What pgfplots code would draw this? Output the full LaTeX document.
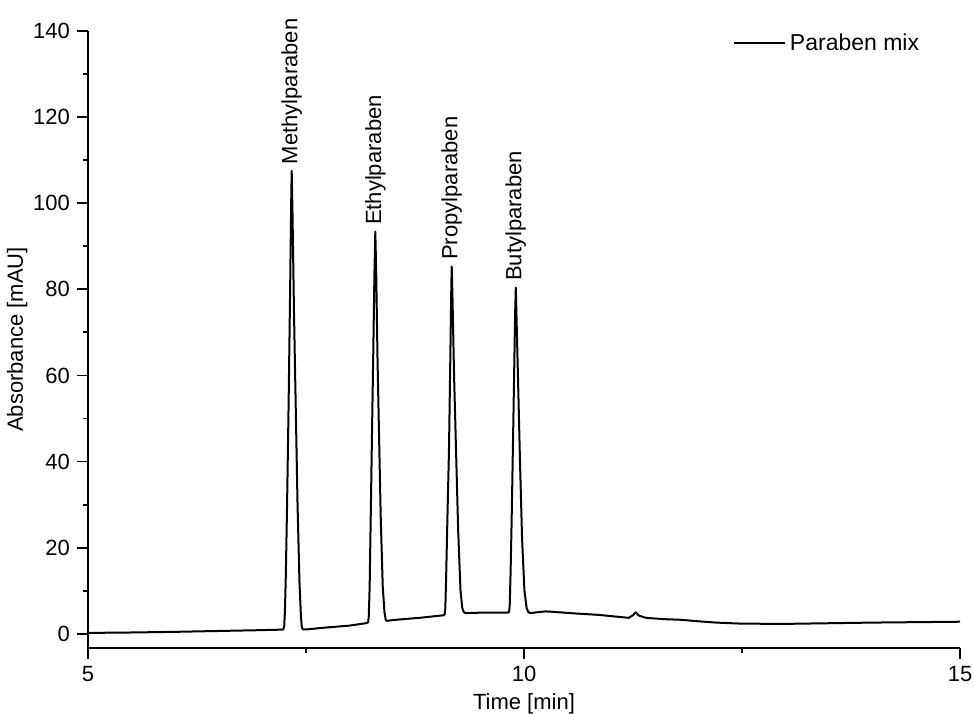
\documentclass[border=0pt]{standalone}
\usepackage{fontspec}
\setmainfont{Liberation Sans}
\usepackage{pgfplots}
\pgfplotsset{compat=1.18}
\begin{document}
\begin{tikzpicture}
\begin{axis}[
  name=ax,
  scale only axis,
  width=436pt, height=308.5pt,
  xmin=5, xmax=15, ymin=-3.3, ymax=140,
  axis x line=bottom, axis y line=left,
  axis line style={-, line width=0.9pt},
  xtick={5,10,15}, minor xtick={7.5,12.5},
  ytick={0,20,...,140}, minor ytick={10,30,...,130},
  tick align=outside,
  major tick length=5.5pt, minor tick length=2.5pt,
  tick style={line width=0.9pt, black},
  font=\fontsize{11}{13}\selectfont,
  ticklabel style={font=\fontsize{11}{13}\selectfont},
  /pgf/number format/assume math mode=true,
  xlabel={Time [min]}, ylabel={Absorbance [mAU]},
  xlabel style={yshift=1pt},
  ylabel style={yshift=-4pt},
  legend style={draw=none, fill=none, at={(0.965,1.0)}, anchor=north east, yshift=3pt, font=\fontsize{11.5}{13}\selectfont},
  legend image code/.code={\draw[line width=1pt] (0cm,0cm) -- (0.9cm,0cm);},
  clip=false,
]
\addplot[black, line width=1pt, line join=round] coordinates {
(5.0,0.2) (5.5,0.3) (6.0,0.45) (6.5,0.65) (7.0,0.85) (7.2,0.95)
(7.240,1.0) (7.250,1.8) (7.258,5) (7.268,13) (7.283,30) (7.301,54) (7.318,80) (7.330,100) (7.336,107.5)
(7.345,98) (7.362,75) (7.381,54) (7.403,30) (7.425,12) (7.442,4) (7.452,1.5) (7.465,1.0) (7.50,1.0)
(7.7,1.4) (8.0,1.9) (8.20,2.5)
(8.212,2.7) (8.220,4) (8.230,11) (8.243,28) (8.257,46.7) (8.272,66) (8.285,84) (8.295,93.4)
(8.305,84) (8.320,64) (8.337,46.7) (8.357,27) (8.380,11) (8.400,5) (8.415,3.2) (8.43,3.0) (8.50,3.2)
(8.8,3.7) (9.08,4.3)
(9.090,4.5) (9.098,6) (9.108,14) (9.123,28) (9.140,43) (9.155,64) (9.166,80) (9.171,85.3)
(9.180,78) (9.198,60) (9.220,43) (9.245,24) (9.272,10) (9.292,6) (9.310,5.0) (9.33,4.8)
(9.5,4.9) (9.80,4.9)
(9.828,5.0) (9.836,6.5) (9.846,14) (9.858,26) (9.870,40) (9.885,58) (9.898,74) (9.906,80.4)
(9.916,72) (9.934,57) (9.954,40) (9.978,22) (10.005,10) (10.030,6) (10.050,5.0) (10.08,4.8)
(10.15,5.0) (10.25,5.2) (10.4,5.0) (10.6,4.7) (10.85,4.4) (11.0,4.1) (11.2,3.7)
(11.25,4.3) (11.28,5.0) (11.32,4.2) (11.4,3.7) (11.6,3.4) (11.8,3.25) (12.0,2.9) (12.2,2.6)
(12.5,2.35) (13.0,2.3) (13.5,2.45) (14.0,2.6) (14.5,2.7) (15.0,2.8)
};
\addlegendentry{Paraben mix}
\node[rotate=90, anchor=west, inner sep=1pt] at (axis cs:7.336,108.5) {Methylparaben};
\node[rotate=90, anchor=west, inner sep=1pt] at (axis cs:8.295,94.4) {Ethylparaben};
\node[rotate=90, anchor=west, inner sep=1pt] at (axis cs:9.171,86.3) {Propylparaben};
\node[rotate=90, anchor=west, inner sep=1pt] at (axis cs:9.906,81.4) {Butylparaben};
\end{axis}
\pgfresetboundingbox
\path[use as bounding box] ([shift={(-44pt,-33pt)}]ax.south west) rectangle ([shift={(7pt,15.5pt)}]ax.north east);
\end{tikzpicture}
\end{document}
